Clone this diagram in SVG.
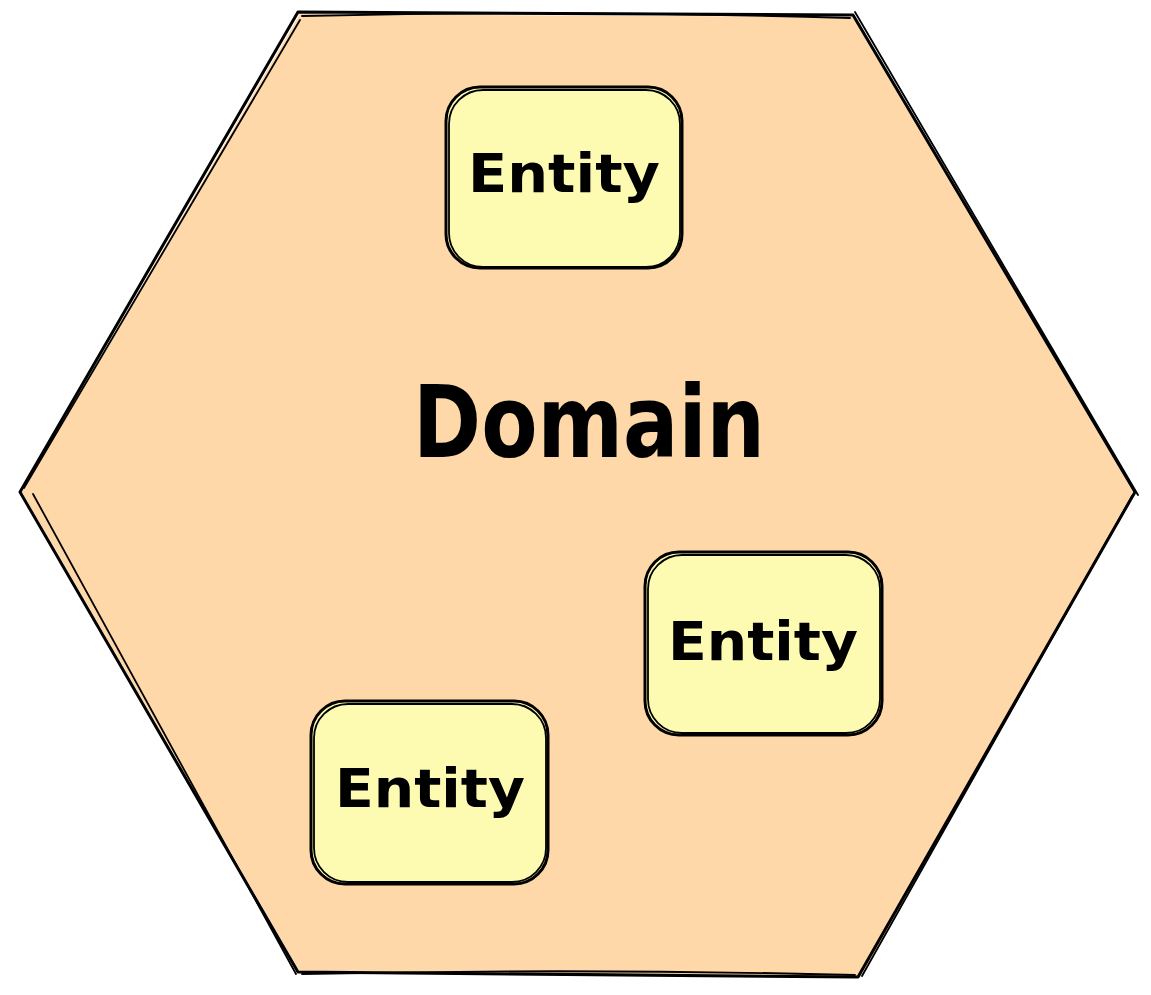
<svg xmlns="http://www.w3.org/2000/svg" width="1151" height="995" viewBox="0 0 1151 995">
<style>
.sk{fill:none;stroke:#000;stroke-width:3;stroke-linecap:round;stroke-linejoin:round}
.sk2{fill:none;stroke:#000;stroke-width:1.8;stroke-linecap:round;stroke-linejoin:round}
.ent{fill:#fdfbb2}
.lbl{font-family:"DejaVu Sans","Liberation Sans",sans-serif;font-weight:bold;fill:#000}
</style>
<rect width="1151" height="995" fill="#fff"/>
<g id="domain">
<polygon points="300,14 853,17 1133,492 860,978 300,972 22,492" fill="#fed8a8"/>
<path class="sk" d="M298,12 L853,15 L1135,492 L858,977 L298,972 L20,492 Z"/>
<path class="sk2" d="M302,16 Q580,10 850,18 M855,12 L1138,495 M1132,496 L862,976 M855,975 Q580,968 302,974 M296,974 L33,494 M24,488 L300,20"/>
<text class="lbl" x="413" y="457" font-size="100" textLength="352" lengthAdjust="spacingAndGlyphs">Domain</text>
</g>
<g id="entity1">
<rect class="ent" x="446" y="87" width="236" height="181" rx="34"/>
<rect class="sk" x="446" y="87" width="236" height="181" rx="34"/>
<rect class="sk2" x="449" y="90" width="231" height="177" rx="34"/>
<text class="lbl" x="468" y="192" font-size="54" textLength="192" lengthAdjust="spacingAndGlyphs">Entity</text>
</g>
<g id="entity2">
<rect class="ent" x="645" y="552" width="237" height="183" rx="34"/>
<rect class="sk" x="645" y="552" width="237" height="183" rx="34"/>
<rect class="sk2" x="648" y="555" width="232" height="178" rx="34"/>
<text class="lbl" x="668" y="660" font-size="54" textLength="190" lengthAdjust="spacingAndGlyphs">Entity</text>
</g>
<g id="entity3">
<rect class="ent" x="311" y="701" width="237" height="183" rx="34"/>
<rect class="sk" x="311" y="701" width="237" height="183" rx="34"/>
<rect class="sk2" x="314" y="704" width="232" height="178" rx="34"/>
<text class="lbl" x="335" y="807" font-size="54" textLength="190" lengthAdjust="spacingAndGlyphs">Entity</text>
</g>
<g id="connectors"/>
</svg>
